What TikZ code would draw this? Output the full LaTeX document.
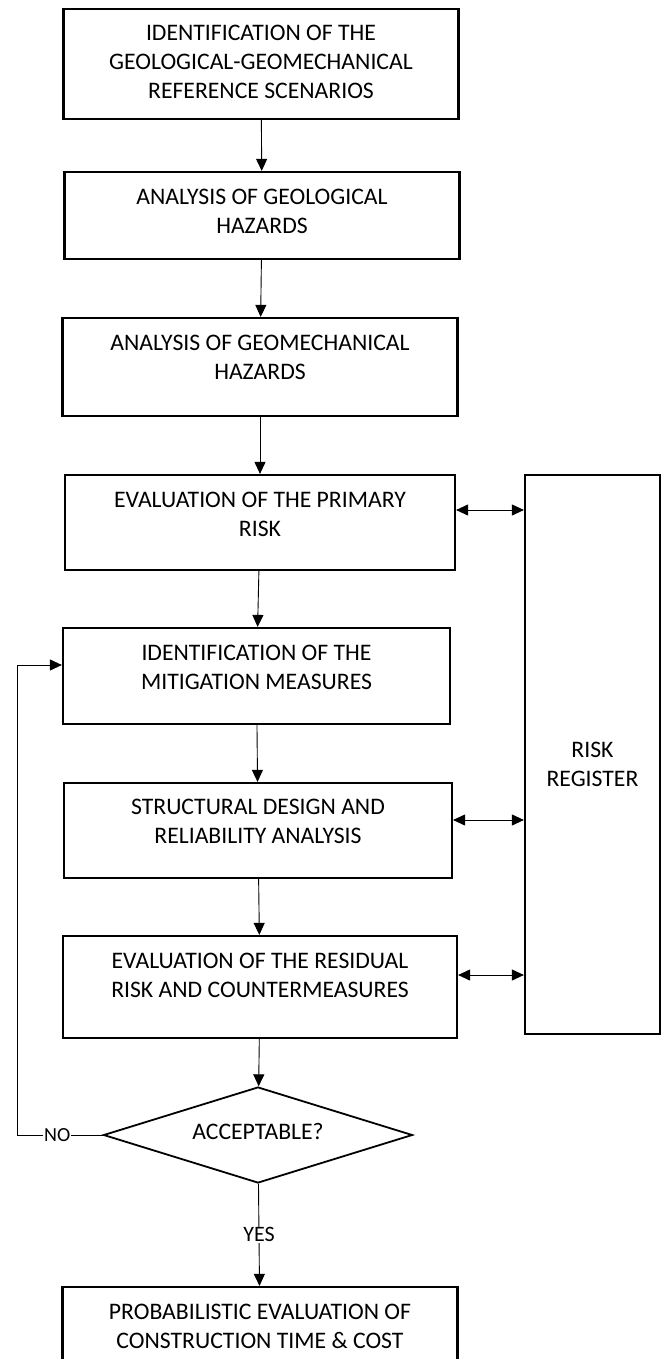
\documentclass[tikz,border=0pt]{standalone}
\usepackage{fontspec}
\setmainfont{Carlito}
\usetikzlibrary{
    positioning,
    arrows.meta,
    shapes.geometric
}
% extra depth under the last line, lifts the text in its box
\newcommand{\padbot}[1]{\rule[-#1]{0pt}{0pt}}

\begin{document}
\begin{tikzpicture}[x=1pt, y=-1pt, >={Triangle[length=12pt,width=11pt]},
    box/.style={draw, rectangle, line width=2.2pt, inner sep=0pt, minimum width=395pt, align=center, font=\fontsize{23.7}{29}\selectfont},
    flow/.style={->, line width=0.9pt},
    both/.style={<->, line width=0.9pt},
    lbl/.style={fill=white, inner sep=1pt}]
        \useasboundingbox (0,0) rectangle (665,1359);
        \clip (0,0) rectangle (665,1359);

        % main chain
        \node[box, minimum height=110pt] (scen) at (261,64) {IDENTIFICATION OF THE\\GEOLOGICAL-GEOMECHANICAL\\REFERENCE SCENARIOS\padbot{4pt}};
        \node[box, minimum height=87pt] (geol) at (262,215.5) {ANALYSIS OF GEOLOGICAL\\HAZARDS\padbot{9pt}};
        \node[box, minimum height=98pt] (geom) at (260,367) {ANALYSIS OF GEOMECHANICAL\\HAZARDS\padbot{20pt}};
        \node[box, minimum height=95pt, minimum width=390pt] (prim) at (260,522.5) {EVALUATION OF THE PRIMARY\\RISK\padbot{17pt}};
        \node[box, minimum height=96pt, minimum width=387pt] (mitig) at (256.5,676) {IDENTIFICATION OF THE\\MITIGATION MEASURES\padbot{18pt}};
        \node[box, minimum height=95pt, minimum width=388pt] (struct) at (258,830.5) {STRUCTURAL DESIGN AND\\RELIABILITY ANALYSIS\padbot{18pt}};
        \node[box, minimum height=102pt, minimum width=394pt] (resid) at (260,987) {EVALUATION OF THE RESIDUAL\\RISK AND COUNTERMEASURES\padbot{24pt}};
        \node[draw, diamond, aspect=3.2, line width=1.8pt, inner sep=0pt, minimum width=309pt, minimum height=96pt, font=\fontsize{23.7}{29}\selectfont] (accept) at (258,1135) {ACCEPTABLE?\padbot{8pt}};
        \node[box, minimum height=100pt] (prob) at (260,1337) {PROBABILISTIC EVALUATION OF\\CONSTRUCTION TIME \& COST\padbot{22pt}};

        % register on the right
        \node[box, minimum width=135pt, minimum height=559pt] (reg) at (592.5,754.5) {\rule{0pt}{36pt}RISK\\REGISTER};

        \draw[flow] (scen) -- (geol);
        \draw[flow] (geol) -- (geom);
        \draw[flow] (geom) -- (prim);
        \draw[flow] (prim) -- (mitig);
        \draw[flow] (mitig) -- (struct);
        \draw[flow] (struct) -- (resid);
        \draw[flow] (resid) -- (accept);
        \draw[flow] (accept) -- node[lbl, font=\fontsize{22}{26}\selectfont] {YES} (prob);

        \draw[both] ([yshift=12.5pt]prim.east) -- ([yshift=12.5pt]prim.east -| reg.west);
        \draw[both] ([yshift=10.5pt]struct.east) -- ([yshift=10.5pt]struct.east -| reg.west);
        \draw[both] ([yshift=12pt]resid.east) -- ([yshift=12pt]resid.east -| reg.west);

        % loop back
        \coordinate (back) at (17,1135);
        \draw[flow] (accept.west) -- node[lbl, pos=0.53, font=\fontsize{20}{24}\selectfont] {NO} (back) |- ([yshift=11pt]mitig.west);
    \end{tikzpicture}
\end{document}
